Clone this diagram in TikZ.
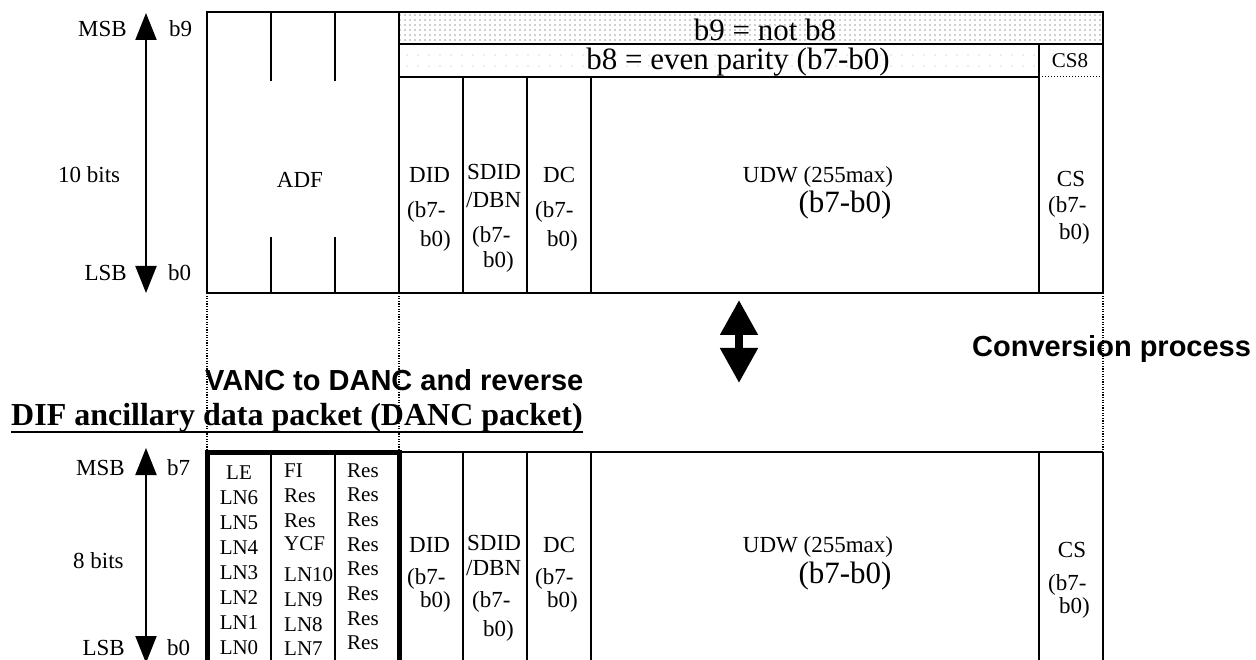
\documentclass[tikz,border=0pt]{standalone}
\usepackage{fontspec}
\setmainfont{Liberation Serif}
\setsansfont{Liberation Sans}
\usepackage{tikz}
\usetikzlibrary{arrows.meta,patterns.meta}
\tikzset{
  fld/.style={font=\fontsize{23}{26}\selectfont, inner sep=0pt},
  fldbig/.style={font=\fontsize{31}{34}\selectfont, inner sep=0pt},
  fldsmall/.style={font=\fontsize{21}{24}\selectfont, inner sep=0pt},
  headsf/.style={font=\sffamily\bfseries\fontsize{29}{32}\selectfont, inner sep=0pt},
  bitarrow/.style={line width=2pt, {Triangle[width=21pt,length=27pt]}-{Triangle[width=21pt,length=27pt]}},
  guide/.style={line width=1.3pt, dash pattern=on 1.3pt off 1.3pt},
  rule/.style={line width=1.6pt},
}

\begin{document}
\begin{tikzpicture}[x=1pt,y=-1pt]
\useasboundingbox (0,0) rectangle (1256,660);
\clip (0,0) rectangle (1256,660);
% field borders: ADF 207-399, DID -463, SDID -527, DC -591, UDW -1039, CS -1103
% --- VANC packet, 10 bits
\path[pattern={Dots[radius=0.8pt,distance=5pt]}, pattern color=gray!75] (399,12) rectangle (1103,44);
\path[pattern={Dots[radius=0.7pt,distance=11pt]}, pattern color=gray!60] (399,44) rectangle (1039,77);
\draw[rule] (207,12) rectangle (1103,293);
\draw[rule] (399,12) -- (399,293);
\draw[rule] (399,44) -- (1103,44);
\draw[rule] (399,77) -- (1039,77);
\draw[line width=1pt, dotted] (1039,77) -- (1103,77);
\draw[rule] (1039,44) -- (1039,293);
\foreach \x in {463,527,591} \draw[rule] (\x,77) -- (\x,293);
\foreach \x in {271,335} \draw[rule] (\x,12) -- (\x,81) (\x,237) -- (\x,293);

\node[fld, anchor=base] (adf) at (300,188) {ADF};
\node[fldbig, anchor=base] (notb) at (765,41) {b9 = not b8};
\node[fldbig, anchor=base] (parity) at (738,70) {b8 = even parity (b7-b0)};
\node[fldsmall, anchor=base] (cseight) at (1070,68) {CS8};
\node[fld, anchor=base west] (didA) at (409,183) {DID};
\node[fld, anchor=base west] (didAb) at (407,218) {(b7-};
\node[fld, anchor=base west] (didAc) at (420,247) {b0)};
\node[fld, anchor=base west] (sdidA) at (467,180) {SDID};
\node[fld, anchor=base west] (sdidAb) at (466,208) {/DBN};
\node[fld, anchor=base west] (sdidAc) at (472,243) {(b7-};
\node[fld, anchor=base west] (sdidAd) at (483,268) {b0)};
\node[fld, anchor=base west] (dcA) at (543,183) {DC};
\node[fld, anchor=base west] (dcAb) at (535,218) {(b7-};
\node[fld, anchor=base west] (dcAc) at (547,247) {b0)};
\node[fld, anchor=base] (udwA) at (818,183) {UDW (255max)};
\node[fldbig, anchor=base] (udwAb) at (845,213) {(b7-b0)};
\node[fld, anchor=base] (csA) at (1071,187) {CS};
\node[fld, anchor=base west] (csAb) at (1048,213) {(b7-};
\node[fld, anchor=base west] (csAc) at (1059,240) {b0)};

\coordinate (msbA) at (146,13);
\coordinate (lsbA) at (146,293);
\draw[bitarrow] (msbA) -- (lsbA);
\node[fld, anchor=base east] (msbAt) at (127,37) {MSB};
\node[fld, anchor=base west] (bnine) at (169,37) {b9};
\node[fld, anchor=base west] (tenbits) at (58,183) {10 bits};
\node[fld, anchor=base east] (lsbAt) at (127,281) {LSB};
\node[fld, anchor=base west] (bzeroA) at (168,281) {b0};

% --- conversion
\foreach \x in {207,399,1103} \draw[guide] (\x,293) -- (\x,452);
\draw[line width=8pt, {Triangle[width=36pt,length=35pt]}-{Triangle[width=36pt,length=35pt]}] (739,300) -- (739,383);
\node[headsf, anchor=base west] (conv) at (972,356) {Conversion process};
\node[headsf, anchor=base west] (vanc) at (205,390) {VANC to DANC and reverse};
\node[font=\bfseries\fontsize{32}{35}\selectfont, inner sep=0pt, anchor=base west] (dif) at (11,425) {DIF ancillary data packet (DANC packet)};
\draw[line width=2.8pt] ([yshift=-7pt]dif.base west) -- ([yshift=-7pt]dif.base east);

% --- DANC packet, 8 bits
\draw[rule] (399,452) -- (1103,452);
\foreach \x in {271,335,463,527,591,1039,1103} \draw[rule] (\x,452) -- (\x,670);
\draw[line width=5pt] (207,670) -- (207,452) -- (399,452) -- (399,670);

\foreach \t [count=\i from 0] in {LE,LN6,LN5,LN4,LN3,LN2,LN1,LN0}
  \node[fldsmall, anchor=base] (lnlo\i) at (239,{479+25.1*\i}) {\t};
\foreach \t/\yy [count=\i] in {FI/477,Res/502,Res/527,YCF/550,LN10/581,LN9/606,LN8/631,LN7/655}
  \node[fldsmall, anchor=base west] (lnhi\i) at (284,\yy) {\t};
\foreach \i in {0,...,7}
  \node[fldsmall, anchor=base west] (res\i) at (347,{477+24.7*\i}) {Res};

\node[fld, anchor=base west] (didB) at (409,552) {DID};
\node[fld, anchor=base west] (didBb) at (407,584) {(b7-};
\node[fld, anchor=base west] (didBc) at (420,607) {b0)};
\node[fld, anchor=base west] (sdidB) at (467,550) {SDID};
\node[fld, anchor=base west] (sdidBb) at (466,575) {/DBN};
\node[fld, anchor=base west] (sdidBc) at (472,607) {(b7-};
\node[fld, anchor=base west] (sdidBd) at (483,636) {b0)};
\node[fld, anchor=base west] (dcB) at (543,552) {DC};
\node[fld, anchor=base west] (dcBb) at (535,584) {(b7-};
\node[fld, anchor=base west] (dcBc) at (547,607) {b0)};
\node[fld, anchor=base] (udwB) at (818,552) {UDW (255max)};
\node[fldbig, anchor=base] (udwBb) at (845,583) {(b7-b0)};
\node[fld, anchor=base] (csB) at (1072,557) {CS};
\node[fld, anchor=base west] (csBb) at (1048,590) {(b7-};
\node[fld, anchor=base west] (csBc) at (1059,613) {b0)};

\coordinate (msbB) at (146,448);
\coordinate (lsbB) at (146,663);
\draw[bitarrow] (msbB) -- (lsbB);
\node[fld, anchor=base east] (msbBt) at (125,475) {MSB};
\node[fld, anchor=base west] (bseven) at (167,475) {b7};
\node[fld, anchor=base west] (eightbits) at (73,568) {8 bits};
\node[fld, anchor=base east] (lsbBt) at (125,655) {LSB};
\node[fld, anchor=base west] (bzeroB) at (167,655) {b0};
\end{tikzpicture}
\end{document}
